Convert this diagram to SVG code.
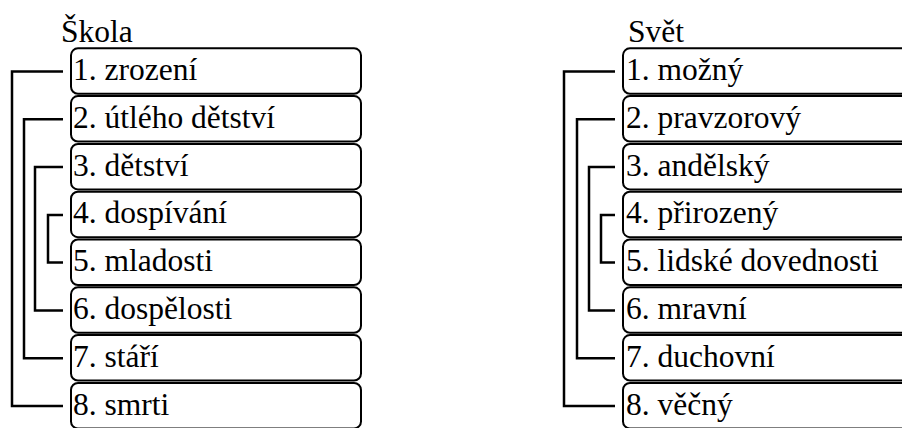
<svg xmlns="http://www.w3.org/2000/svg" width="902" height="428" viewBox="0 0 902 428">
<rect width="902" height="428" fill="#fff"/>
<text x="61" y="42" font-size="31.5" font-family="'Liberation Serif'">Škola</text>
<text x="628" y="42" font-size="31.5" font-family="'Liberation Serif'">Svět</text>
<g id="nodes" fill="#fff" stroke="#000" stroke-width="2">
<g id="L1"><rect x="71" y="48.3" width="290" height="45.5" rx="7"/><text x="73" y="80" font-size="31.5" font-family="'Liberation Serif'" fill="#000" stroke="none">1. zrození</text></g>
<g id="L2"><rect x="71" y="96.1" width="290" height="45.5" rx="7"/><text x="73" y="127.8" font-size="31.5" font-family="'Liberation Serif'" fill="#000" stroke="none">2. útlého dětství</text></g>
<g id="L3"><rect x="71" y="143.9" width="290" height="45.5" rx="7"/><text x="73" y="175.6" font-size="31.5" font-family="'Liberation Serif'" fill="#000" stroke="none">3. dětství</text></g>
<g id="L4"><rect x="71" y="191.7" width="290" height="45.5" rx="7"/><text x="73" y="223.4" font-size="31.5" font-family="'Liberation Serif'" fill="#000" stroke="none">4. dospívání</text></g>
<g id="L5"><rect x="71" y="239.5" width="290" height="45.5" rx="7"/><text x="73" y="271.2" font-size="31.5" font-family="'Liberation Serif'" fill="#000" stroke="none">5. mladosti</text></g>
<g id="L6"><rect x="71" y="287.3" width="290" height="45.5" rx="7"/><text x="73" y="319" font-size="31.5" font-family="'Liberation Serif'" fill="#000" stroke="none">6. dospělosti</text></g>
<g id="L7"><rect x="71" y="335.1" width="290" height="45.5" rx="7"/><text x="73" y="366.8" font-size="31.5" font-family="'Liberation Serif'" fill="#000" stroke="none">7. stáří</text></g>
<g id="L8"><rect x="71" y="382.9" width="290" height="45.5" rx="7"/><text x="73" y="414.6" font-size="31.5" font-family="'Liberation Serif'" fill="#000" stroke="none">8. smrti</text></g>
<g id="R1"><rect x="623" y="48.3" width="300" height="45.5" rx="7"/><text x="626" y="80" font-size="31.5" font-family="'Liberation Serif'" fill="#000" stroke="none">1. možný</text></g>
<g id="R2"><rect x="623" y="96.1" width="300" height="45.5" rx="7"/><text x="626" y="127.8" font-size="31.5" font-family="'Liberation Serif'" fill="#000" stroke="none">2. pravzorový</text></g>
<g id="R3"><rect x="623" y="143.9" width="300" height="45.5" rx="7"/><text x="626" y="175.6" font-size="31.5" font-family="'Liberation Serif'" fill="#000" stroke="none">3. andělský</text></g>
<g id="R4"><rect x="623" y="191.7" width="300" height="45.5" rx="7"/><text x="626" y="223.4" font-size="31.5" font-family="'Liberation Serif'" fill="#000" stroke="none">4. přirozený</text></g>
<g id="R5"><rect x="623" y="239.5" width="300" height="45.5" rx="7"/><text x="626" y="271.2" font-size="31.5" font-family="'Liberation Serif'" fill="#000" stroke="none">5. lidské dovednosti</text></g>
<g id="R6"><rect x="623" y="287.3" width="300" height="45.5" rx="7"/><text x="626" y="319" font-size="31.5" font-family="'Liberation Serif'" fill="#000" stroke="none">6. mravní</text></g>
<g id="R7"><rect x="623" y="335.1" width="300" height="45.5" rx="7"/><text x="626" y="366.8" font-size="31.5" font-family="'Liberation Serif'" fill="#000" stroke="none">7. duchovní</text></g>
<g id="R8"><rect x="623" y="382.9" width="300" height="45.5" rx="7"/><text x="626" y="414.6" font-size="31.5" font-family="'Liberation Serif'" fill="#000" stroke="none">8. věčný</text></g>
</g>
<g id="connectors" fill="none" stroke="#000" stroke-width="2.5">
<path d="M63 71.5H12V406H63"/>
<path d="M63 119.3H24V358.2H63"/>
<path d="M63 167.1H35V310.4H63"/>
<path d="M63 214.9H48V262.6H63"/>
<path d="M615 71.5H564V406H615"/>
<path d="M615 119.3H577V358.2H615"/>
<path d="M615 167.1H589V310.4H615"/>
<path d="M615 214.9H601V262.6H615"/>
</g>
</svg>
